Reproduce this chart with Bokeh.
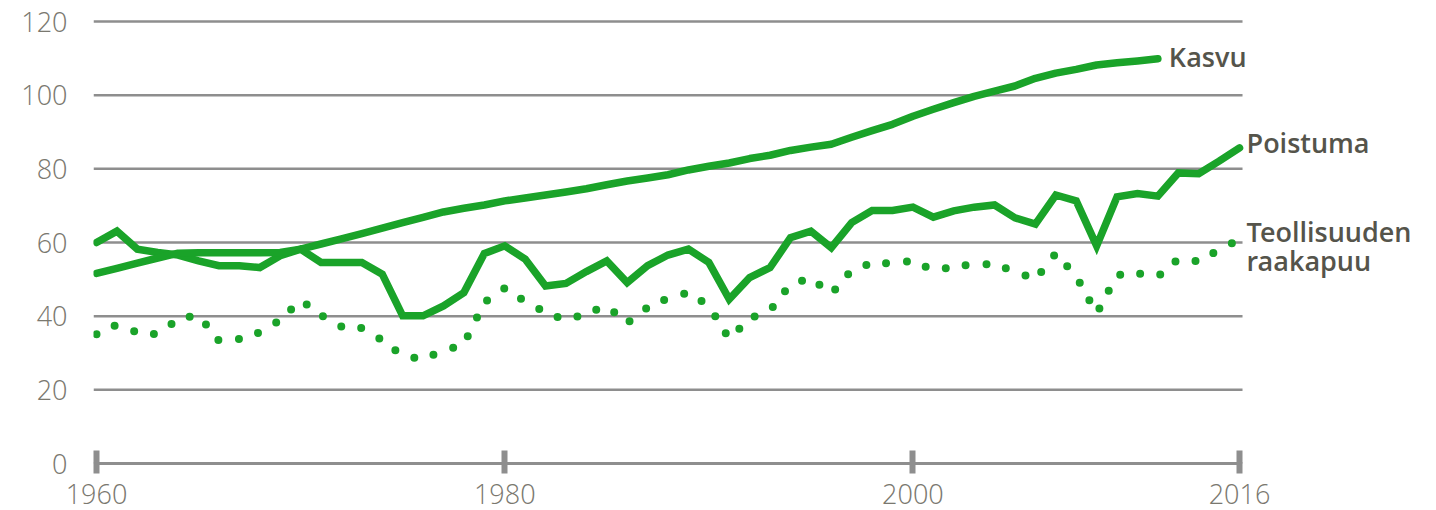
from bokeh.plotting import figure
from bokeh.models import FixedTicker, Label, Range1d
from bokeh.embed import file_html
from bokeh.resources import INLINE

years = list(range(1960, 2017))
kasvu_years = list(range(1960, 2013))
kasvu = [51.6, 53.0, 54.4, 55.8, 57.1, 57.2, 57.2, 57.2, 57.2, 57.3,
         58.2, 59.6, 61.0, 62.4, 63.9, 65.4, 66.8, 68.3, 69.3, 70.2,
         71.3, 72.1, 72.9, 73.7, 74.6, 75.7, 76.7, 77.5, 78.4, 79.7,
         80.7, 81.6, 82.8, 83.7, 85.0, 85.9, 86.7, 88.6, 90.4, 92.1,
         94.3, 96.2, 98.0, 99.7, 101.1, 102.5, 104.6, 106.0, 107.0, 108.2,
         108.8, 109.3, 109.9]
poistuma = [60.0, 63.1, 58.2, 57.3, 56.6, 55.0, 53.7, 53.7, 53.2, 56.4,
            58.2, 54.6, 54.6, 54.6, 51.4, 40.1, 40.1, 42.8, 46.4, 57.0,
            59.1, 55.5, 48.2, 48.9, 52.1, 55.0, 49.1, 53.7, 56.6, 58.2,
            54.6, 44.6, 50.5, 53.2, 61.3, 63.1, 58.6, 65.4, 68.7, 68.7,
            69.6, 66.9, 68.6, 69.6, 70.2, 66.7, 65.0, 72.9, 71.3, 59.1,
            72.4, 73.3, 72.6, 78.9, 78.7, 82.1, 85.7]
raakapuu = [35.1, 37.7, 35.6, 35.1, 39.2, 40.3, 33.3, 33.8, 35.6, 38.9,
            44.4, 40.3, 37.2, 36.8, 33.5, 29.2, 28.4, 30.6, 32.4, 43.7,
            47.6, 44.0, 41.0, 38.9, 40.7, 42.8, 38.1, 42.4, 44.9, 46.4,
            42.8, 33.8, 39.4, 41.5, 48.7, 50.3, 46.0, 52.5, 54.4, 54.4,
            55.0, 52.5, 53.4, 54.1, 54.1, 52.1, 50.0, 57.1, 50.8, 40.7,
            51.2, 51.6, 50.8, 55.5, 54.9, 58.0, 60.9]
x_ticks = [1960, 1980, 2000, 2016]
y_ticks = [0, 20, 40, 60, 80, 100, 120]
series_labels = ["Kasvu", "Poistuma", "Teollisuuden", "raakapuu"]

GREEN = "#1aa329"
GRID = "#8e8e8e"
TICK_TXT = "#7a786f"
LAB_TXT = "#55544b"

# plot area: grid spans x_lo..x_hi, frame continues to the right for the labels
x_lo, x_hi, x_end = 1959.853, 2016.147, 2025.651

p = figure(width=1436, height=510, output_backend="svg", toolbar_location=None,
           x_range=Range1d(x_lo, x_end), y_range=Range1d(0, 123),
           min_border_left=93, min_border_right=0, min_border_top=10,
           min_border_bottom=47)
p.outline_line_color = None
p.background_fill_color = "white"
p.border_fill_color = "white"
p.grid.visible = False

# horizontal grid lines at the y ticks, limited to the data span
p.segment(x0=[x_lo] * len(y_ticks), y0=y_ticks, x1=[x_hi] * len(y_ticks), y1=y_ticks,
          line_color=GRID, line_width=2.5)

p.xaxis.ticker = FixedTicker(ticks=x_ticks)
p.xaxis.bounds = (x_ticks[0], x_ticks[-1])
p.xaxis.axis_line_color = GRID
p.xaxis.axis_line_width = 3
p.xaxis.major_tick_line_color = GRID
p.xaxis.major_tick_line_width = 6
p.xaxis.major_tick_in = 13
p.xaxis.major_tick_out = 10
p.xaxis.minor_tick_line_color = None
p.xaxis.major_label_standoff = 10
p.xaxis.major_label_text_font = "Open Sans Light"
p.xaxis.major_label_text_font_size = "27px"
p.xaxis.major_label_text_color = TICK_TXT

p.yaxis.ticker = FixedTicker(ticks=y_ticks)
p.yaxis.axis_line_color = None
p.yaxis.major_tick_line_color = None
p.yaxis.minor_tick_line_color = None
p.yaxis.major_tick_in = 0
p.yaxis.major_tick_out = 0
p.yaxis.major_label_standoff = 26
p.yaxis.major_label_text_font = "Open Sans Light"
p.yaxis.major_label_text_font_size = "27px"
p.yaxis.major_label_text_color = TICK_TXT

p.line(years, raakapuu, line_color=GREEN, line_width=8, line_dash="0 20 0 21",
       line_cap="round")
p.line(years, poistuma, line_color=GREEN, line_width=7.5, line_cap="round",
       line_join="miter")
p.line(kasvu_years, kasvu, line_color=GREEN, line_width=7.5, line_cap="round",
       line_join="round")

lab_kw = dict(text_font="Open Sans SemiBold", text_font_size="27px",
              text_color=LAB_TXT, text_baseline="alphabetic", text_align="left")
p.add_layout(Label(x=kasvu_years[-1], y=kasvu[-1], text=series_labels[0],
                   x_offset=11, y_offset=2.5, **lab_kw))
p.add_layout(Label(x=years[-1], y=poistuma[-1], text=series_labels[1],
                   x_offset=7, y_offset=5.4, **lab_kw))
p.add_layout(Label(x=years[-1], y=raakapuu[-1], text=series_labels[2],
                   x_offset=7, y_offset=8, **lab_kw))
p.add_layout(Label(x=years[-1], y=raakapuu[-1], text=series_labels[3],
                   x_offset=7, y_offset=-21.3, **lab_kw))

open("out.html", "w").write(file_html(p, INLINE))
